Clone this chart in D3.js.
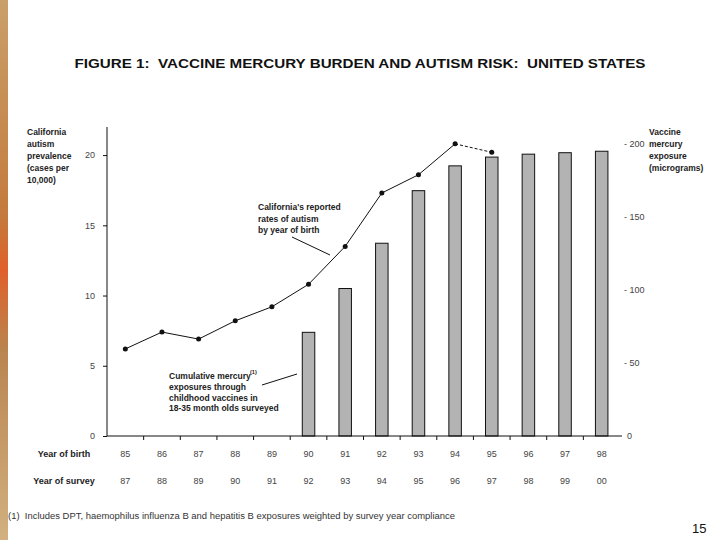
<!DOCTYPE html>
<html>
<head>
<meta charset="utf-8">
<script src="https://cdn.jsdelivr.net/npm/d3@7"></script>
<style>
  body { margin: 0; background: #fff; }
  text { font-family: "Liberation Sans", Arial, sans-serif; white-space: pre; }
  .tick text { fill: #444; font-size: 9px; }
</style>
</head>
<body>
<div id="chart"></div>
<script>
// chart data
var birthYears = ["85", "86", "87", "88", "89", "90", "91", "92", "93", "94", "95", "96", "97", "98"];
var surveyYears = ["87", "88", "89", "90", "91", "92", "93", "94", "95", "96", "97", "98", "99", "00"];
var autismRate = [6.2, 7.4, 6.9, 8.2, 9.2, 10.8, 13.5, 17.3, 18.6, 20.8, 20.2, null, null, null];
var mercury = [0, 0, 0, 0, 0, 71, 101, 132, 168, 185, 191, 193, 194, 195];
var leftTicks = [0, 5, 10, 15, 20];
var rightTicks = [0, 50, 100, 150, 200];

var svgWidth = 720;
var svgHeight = 540;

var margin = { top: 127, left: 107, right: 100, bottom: 104 };
var width = 620 - margin.left;
var height = 436 - margin.top;

var svg = d3.select("#chart")
  .append("svg")
  .attr("width", svgWidth)
  .attr("height", svgHeight);

// slide background strip on the left
var grad = svg.append("defs").append("linearGradient")
  .attr("id", "strip").attr("x1", 0).attr("y1", 0).attr("x2", 0).attr("y2", 1);
grad.append("stop").attr("offset", "0%").attr("stop-color", "#c9a06a");
grad.append("stop").attr("offset", "40%").attr("stop-color", "#c47a3c");
grad.append("stop").attr("offset", "50%").attr("stop-color", "#e0602a");
grad.append("stop").attr("offset", "65%").attr("stop-color", "#b98550");
grad.append("stop").attr("offset", "100%").attr("stop-color", "#d2b080");
svg.append("rect").attr("x", 0).attr("y", 0).attr("width", 8).attr("height", svgHeight)
  .attr("fill", "url(#strip)");

// title
svg.append("text")
  .attr("x", 360).attr("y", 68)
  .attr("text-anchor", "middle")
  .attr("font-size", "12.5px")
  .attr("font-weight", "bold")
  .attr("fill", "#111")
  .attr("textLength", 571)
  .attr("lengthAdjust", "spacingAndGlyphs")
  .text("FIGURE 1:  VACCINE MERCURY BURDEN AND AUTISM RISK:  UNITED STATES");

var chartGroup = svg.append("g")
  .attr("transform", `translate(${margin.left}, ${margin.top})`);

// scales
var xBandScale = d3.scaleBand()
  .domain(birthYears)
  .range([0, width]);

var yLeftScale = d3.scaleLinear()
  .domain([0, 22])
  .range([height, 0]);

var yRightScale = d3.scaleLinear()
  .domain([0, 211.6])
  .range([height, 0]);

// bars (right axis)
var barW = 12.5;
chartGroup.selectAll("rect.bar")
  .data(mercury.map((m, i) => ({ year: birthYears[i], m: m })).filter(d => d.m > 0))
  .enter()
  .append("rect")
  .attr("class", "bar")
  .attr("x", d => xBandScale(d.year) + xBandScale.bandwidth() / 2 - barW / 2)
  .attr("y", d => yRightScale(d.m))
  .attr("width", barW)
  .attr("height", d => height - yRightScale(d.m))
  .attr("fill", "#b3b3b3")
  .attr("stroke", "#111")
  .attr("stroke-width", 1);

// axes
var leftAxis = d3.axisLeft(yLeftScale).tickValues(leftTicks).tickSize(4).tickPadding(8);
var gl = chartGroup.append("g").call(leftAxis);
gl.select(".domain").attr("stroke", "#111").attr("d", `M0,${height}V0`);
gl.selectAll(".tick line").attr("stroke", "#111");

var bottomAxis = d3.axisBottom(xBandScale).tickSize(0).tickFormat("");
var gb = chartGroup.append("g")
  .attr("transform", `translate(0, ${height})`)
  .call(bottomAxis);
gb.select(".domain").attr("stroke", "#111").attr("d", `M0,0H${width + 2}`);

// ticks at band edges
chartGroup.selectAll("line.xtick")
  .data(birthYears.slice(1))
  .enter()
  .append("line")
  .attr("x1", d => xBandScale(d)).attr("x2", d => xBandScale(d))
  .attr("y1", height).attr("y2", height + 4)
  .attr("stroke", "#111");

// right axis labels
var rightAxis = d3.axisRight(yRightScale).tickValues(rightTicks).tickSize(0).tickPadding(0)
  .tickFormat(d => d === 0 ? "0" : "- " + d);
var gr = chartGroup.append("g")
  .attr("transform", `translate(${width + 4}, 0)`)
  .call(rightAxis);
gr.select(".domain").remove();
gr.selectAll(".tick text").attr("fill", "#777").attr("dx", d => d === 0 ? 3 : 0);

// year of birth / survey labels
chartGroup.selectAll("text.birth")
  .data(birthYears)
  .enter()
  .append("text")
  .attr("class", "birth")
  .attr("x", d => xBandScale(d) + xBandScale.bandwidth() / 2)
  .attr("y", height + 21)
  .attr("text-anchor", "middle")
  .attr("font-size", "9px")
  .attr("fill", "#444")
  .text(d => d);

chartGroup.selectAll("text.survey")
  .data(surveyYears)
  .enter()
  .append("text")
  .attr("class", "survey")
  .attr("x", (d, i) => xBandScale(birthYears[i]) + xBandScale.bandwidth() / 2)
  .attr("y", height + 48)
  .attr("text-anchor", "middle")
  .attr("font-size", "9px")
  .attr("fill", "#444")
  .text(d => d);

svg.append("text").attr("x", 64).attr("y", 457).attr("text-anchor", "middle")
  .attr("font-size", "9px").attr("font-weight", "bold").attr("fill", "#222")
  .text("Year of birth");
svg.append("text").attr("x", 64).attr("y", 484).attr("text-anchor", "middle")
  .attr("font-size", "9px").attr("font-weight", "bold").attr("fill", "#222")
  .text("Year of survey");

// autism line: solid reported, dashed last segment
var pts = autismRate.map((v, i) => ({ year: birthYears[i], v: v })).filter(d => d.v !== null);
var line = d3.line()
  .x(d => xBandScale(d.year) + xBandScale.bandwidth() / 2)
  .y(d => yLeftScale(d.v));

chartGroup.append("path")
  .datum(pts.slice(0, pts.length - 1))
  .attr("d", line)
  .attr("fill", "none")
  .attr("stroke", "#111")
  .attr("stroke-width", 1);

chartGroup.append("path")
  .datum(pts.slice(pts.length - 2))
  .attr("d", line)
  .attr("fill", "none")
  .attr("stroke", "#111")
  .attr("stroke-width", 1)
  .attr("stroke-dasharray", "3,2");

chartGroup.selectAll("circle")
  .data(pts)
  .enter()
  .append("circle")
  .attr("cx", d => xBandScale(d.year) + xBandScale.bandwidth() / 2)
  .attr("cy", d => yLeftScale(d.v))
  .attr("r", 2.5)
  .attr("fill", "#111");

// axis titles
function multiline(x, y, lines, lh) {
  var t = svg.append("text")
    .attr("x", x).attr("y", y)
    .attr("font-size", "8.5px")
    .attr("font-weight", "bold")
    .attr("fill", "#222");
  lines.forEach(function(l, i) {
    t.append("tspan").attr("x", x).attr("dy", i === 0 ? 0 : lh).text(l);
  });
  return t;
}

multiline(27, 135, ["California", "autism", "prevalence", "(cases per", "10,000)"], 12);
multiline(649, 135, ["Vaccine", "mercury", "exposure", "(micrograms)"], 12);

// annotations
multiline(258, 210, ["California's reported", "rates of autism", "by year of birth"], 11.5);
svg.append("line").attr("x1", 292).attr("y1", 237).attr("x2", 330).attr("y2", 255)
  .attr("stroke", "#111");

// superscript kept as a separate text so it does not collide with the next line
multiline(169, 379, ["Cumulative mercury", "exposures through", "childhood vaccines in", "18-35 month olds surveyed"], 10.8);
svg.append("text").attr("x", 250).attr("y", 374)
  .attr("font-size", "5.5px").attr("font-weight", "bold").attr("fill", "#222")
  .text("(1)");
svg.append("line").attr("x1", 262).attr("y1", 385).attr("x2", 297).attr("y2", 374)
  .attr("stroke", "#111");

// footnote and page number
svg.append("text").attr("x", 8).attr("y", 519)
  .attr("font-size", "8.5px").attr("fill", "#333")
  .attr("textLength", 447)
  .attr("lengthAdjust", "spacingAndGlyphs")
  .text("(1)  Includes DPT, haemophilus influenza B and hepatitis B exposures weighted by survey year compliance");

svg.append("text").attr("x", 692).attr("y", 533)
  .attr("font-size", "13px").attr("fill", "#111")
  .text("15");
</script>
</body>
</html>
